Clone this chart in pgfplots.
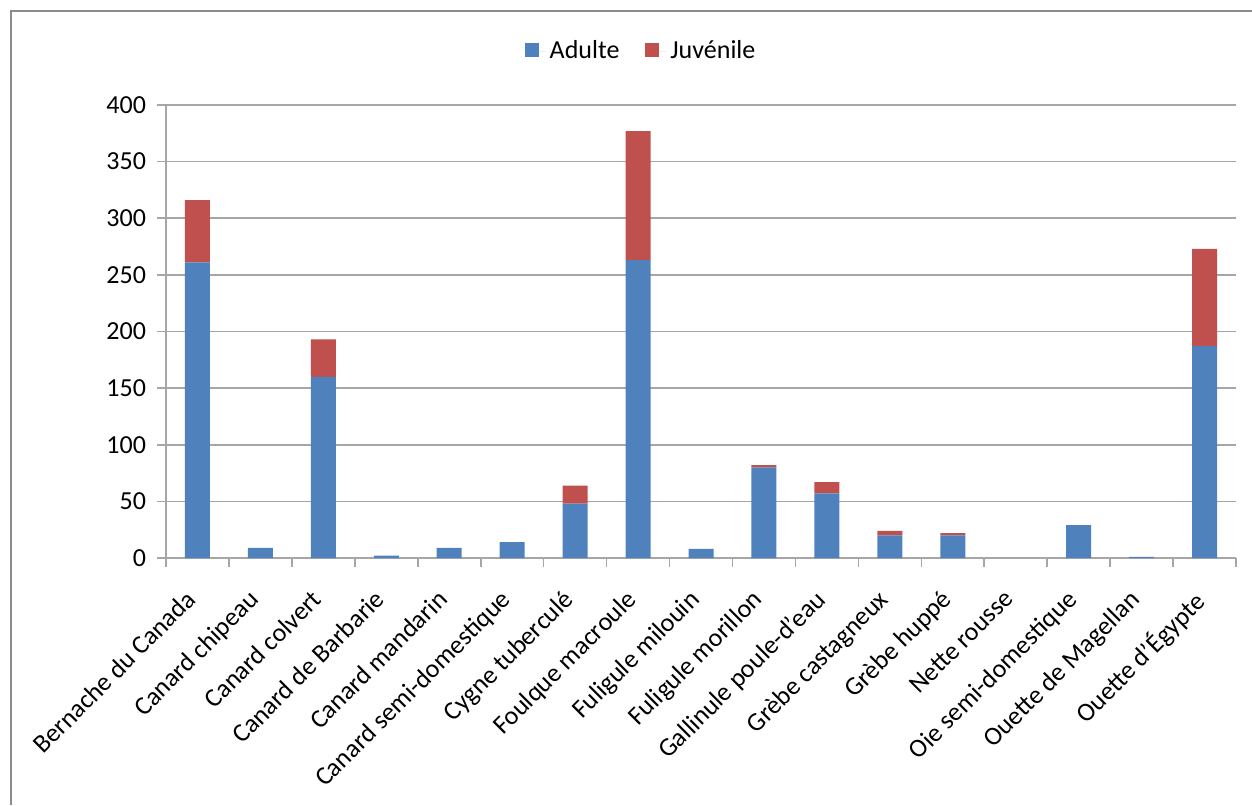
\documentclass[border=0pt]{standalone}
\usepackage{fontspec}
\setmainfont{Carlito}
\usepackage{pgfplots}
\pgfplotsset{compat=1.18}
\definecolor{adulte}{HTML}{4F81BD}
\definecolor{juvenile}{HTML}{C0504D}
\definecolor{gridgray}{HTML}{A6A6A6}
\definecolor{framegray}{HTML}{8C8C8C}
\begin{document}
\begin{tikzpicture}
\useasboundingbox (0pt,0pt) rectangle (626pt,402.5pt);
% outer chart frame
\draw[framegray,line width=1.2pt] (5.5pt,0pt) -- (5.5pt,397pt) -- (626pt,397pt);
\begin{axis}[
  at={(83pt,123.5pt)}, anchor=south west,
  scale only axis, width=535pt, height=226.5pt,
  ybar stacked, bar width=12.5pt,
  xmin=-0.5, xmax=16.5, ymin=0, ymax=400,
  ytick={0,50,...,400},
  xtick={0,...,16},
  xticklabels={Bernache du Canada,Canard chipeau,Canard colvert,Canard de Barbarie,Canard mandarin,Canard semi-domestique,Cygne tuberculé,Foulque macroule,Fuligule milouin,Fuligule morillon,Gallinule poule-d'eau,Grèbe castagneux,Grèbe huppé,Nette rousse,Oie semi-domestique,Ouette de Magellan,Ouette d'Égypte},
  x tick label style={xshift=-6.5pt, yshift=-9pt, rotate=45, anchor=north east, font=\fontsize{13}{15}\selectfont, inner sep=1pt},
  y tick label style={font=\fontsize{13}{15}\selectfont, xshift=-2pt},
  /pgf/number format/assume math mode=true,
  minor xtick={-0.5,0.5,...,16.5},
  major x tick style={draw=none},
  tick align=outside,
  major tick length=4.5pt, minor tick length=4.5pt,
  every tick/.style={gridgray, line width=0.8pt},
  axis x line*=bottom, axis y line*=left,
  axis line style={gridgray, line width=0.8pt, -},
  ymajorgrids, major grid style={gridgray, line width=0.8pt},
  minor x grid style={draw=none},
  legend style={at={(0.4449,1.119)}, anchor=center, draw=none, fill=none,
    font=\fontsize{13}{15}\selectfont, legend columns=2,
    /tikz/every even column/.append style={column sep=11pt}},
  legend image code/.code={\path (0pt,0pt) -- (10.5pt,0pt);
    \fill[#1] (0pt,-3pt) rectangle (7pt,4pt);},
]
\addplot[fill=adulte, draw=none] coordinates {
 (0,261) (1,9) (2,160) (3,2) (4,9) (5,14) (6,48) (7,263) (8,8) (9,80)
 (10,57) (11,20) (12,20) (13,0) (14,29) (15,1) (16,187)};
\addplot[fill=juvenile, draw=none] coordinates {
 (0,55) (1,0) (2,33) (3,0) (4,0) (5,0) (6,16) (7,114) (8,0) (9,2)
 (10,10) (11,4) (12,2) (13,0) (14,0) (15,0) (16,86)};
\legend{Adulte,Juvénile}
\end{axis}
\end{tikzpicture}
\end{document}
